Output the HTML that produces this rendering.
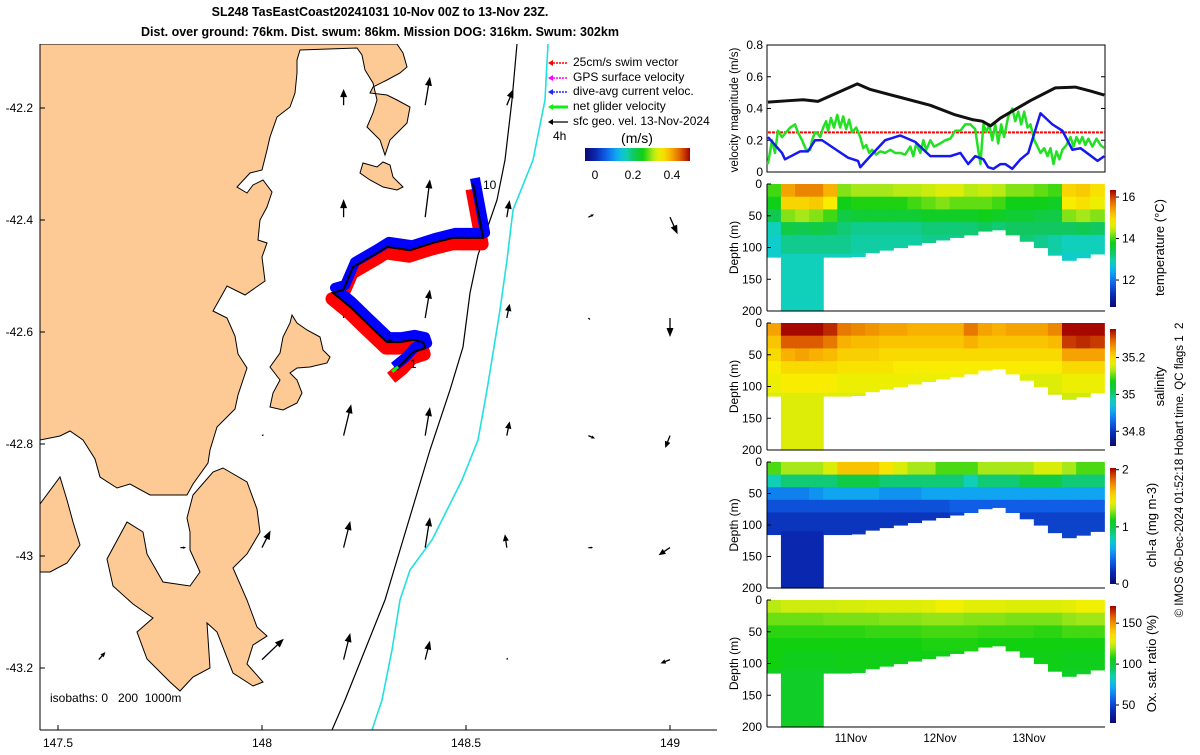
<!DOCTYPE html>
<html><head><meta charset="utf-8">
<style>
body{margin:0;background:#fff;}
svg{font-family:"Liberation Sans","DejaVu Sans",sans-serif;}
</style></head>
<body>
<svg id="chart" width="1200" height="750" viewBox="0 0 1200 750" xmlns="http://www.w3.org/2000/svg">
<rect x="0" y="0" width="1200" height="750" fill="#fff"/>
<g font-weight="bold" font-size="12.5" text-anchor="middle" fill="#000">
<text x="380" y="16">SL248 TasEastCoast20241031 10-Nov 00Z to 13-Nov 23Z.</text>
<text x="380" y="36">Dist. over ground: 76km. Dist. swum: 86km. Mission DOG: 316km. Swum: 302km</text>
</g>
<clipPath id="mapclip"><rect x="40" y="44" width="677" height="686"/></clipPath>
<g id="map">
<g clip-path="url(#mapclip)">
<g fill="#fdca96" stroke="#000" stroke-width="1">
<path d="M40,44 L397,44 L403,53 L407,67 L400,73 L387,80 L373,87 L370,93 L387,95 L397,100 L410,107 L407,123 L397,133 L390,140 L385,155 L380,140 L367,127 L373,113 L377,100 L373,83 L365,70 L362,55 L357,48 L300,50 L297,60 L297,73 L295,93 L290,107 L277,117 L270,137 L267,150 L262,170 L250,173 L237,187 L247,193 L253,185 L263,180 L272,192 L267,207 L260,220 L258,240 L267,243 L262,257 L265,281 L245,295 L227,286 L222,295 L213,311 L227,318 L235,336 L238,354 L247,368 L238,395 L235,409 L217,427 L210,450 L208,463 L193,484 L187,495 L150,495 L130,484 L117,488 L100,477 L95,459 L83,440 L70,431 L60,436 L40,440 Z"/>
<path d="M187,518 L193,495 L213,472 L223,468 L247,482 L257,509 L260,532 L247,554 L233,568 L247,600 L257,627 L267,636 L253,645 L247,664 L263,682 L253,686 L233,673 L217,632 L207,623 L210,668 L193,677 L180,691 L170,682 L147,659 L137,632 L153,618 L133,604 L113,586 L107,559 L127,522 L143,532 L147,554 L163,582 L190,586 L200,572 L190,550 L190,532 Z"/>
<path d="M40,504 L60,477 L67,500 L73,522 L80,545 L67,563 L50,572 L40,572 Z"/>
<path d="M363,163 L377,167 L383,162 L390,165 L393,177 L403,187 L397,190 L383,187 L370,180 L360,173 Z"/>
<path d="M292,315 L297,323 L307,330 L320,337 L323,350 L330,357 L327,363 L310,367 L297,368 L290,373 L297,380 L302,393 L297,403 L283,410 L270,407 L273,393 L280,380 L270,367 L280,353 L283,337 L290,323 Z"/>
</g>
<path fill="none" stroke="#000" stroke-width="1.2" d="M517,44 L512,100 L505,160 L497,200 L478,255 L470,293 L463,347 L450,390 L430,450 L415,500 L400,550 L385,600 L365,650 L345,700 L332,730"/>
<path fill="none" stroke="#22e0e0" stroke-width="1.6" d="M548,44 L545,100 L537,140 L533,160 L513,210 L507,260 L500,310 L487,390 L478,440 L462,480 L432,540 L410,570 L400,600 L392,650 L382,700 L372,730"/>
<g id="vectors"></g>
<g id="track"></g>
</g>
<text x="483" y="189" font-size="12">10</text>
<text x="386" y="341" font-size="12">1</text>
<text x="410" y="368" font-size="12">1</text>
<line x1="40" y1="44" x2="40" y2="730" stroke="#000"/>
<line x1="40" y1="730" x2="717" y2="730" stroke="#000"/>
<g id="mapticks" font-size="12"></g>
<text x="50" y="702" font-size="12" xml:space="preserve">isobaths: 0   200  1000m</text>
<g font-size="12">
<g><line x1="550" y1="63" x2="568" y2="63" stroke="#f00" stroke-width="1.5" stroke-dasharray="2,1"/><path d="M548,63 l5,-3 v6z" fill="#f00"/><text x="573" y="66">25cm/s swim vector</text></g>
<g><line x1="550" y1="78" x2="568" y2="78" stroke="#f0f" stroke-width="1.5" stroke-dasharray="2,1"/><path d="M548,78 l5,-3 v6z" fill="#f0f"/><text x="573" y="81">GPS surface velocity</text></g>
<g><line x1="550" y1="92" x2="568" y2="92" stroke="#22f" stroke-width="1.5" stroke-dasharray="2,1"/><path d="M548,92 l5,-3 v6z" fill="#22f"/><text x="573" y="95">dive-avg current veloc.</text></g>
<g><line x1="550" y1="107" x2="568" y2="107" stroke="#1e1" stroke-width="3"/><path d="M548,107 l5,-3 v6z" fill="#1e1"/><text x="573" y="110">net glider velocity</text></g>
<g><line x1="550" y1="122" x2="568" y2="122" stroke="#000" stroke-width="1.2"/><path d="M548,122 l5,-3 v6z" fill="#000"/><text x="573" y="125">sfc geo. vel. 13-Nov-2024</text></g>
<text x="553" y="140" font-size="12">4h</text>
<text x="637" y="143" font-size="14" text-anchor="middle">(m/s)</text>
<rect id="mapcbar" x="585" y="148" width="105" height="13"/>
<text x="595" y="179" font-size="12" text-anchor="middle">0</text>
<text x="633" y="179" font-size="12" text-anchor="middle">0.2</text>
<text x="672" y="179" font-size="12" text-anchor="middle">0.4</text>
</g>
</g>
<g id="right"></g>
<text transform="translate(1183,470) rotate(-90)" font-size="11.5" text-anchor="middle" xml:space="preserve">© IMOS 06-Dec-2024 01:52:18 Hobart time. QC flags 1  2</text>
</svg>
<script>
const NS='http://www.w3.org/2000/svg';
function mk(tag,attrs,parent){const e=document.createElementNS(NS,tag);for(const k in attrs)e.setAttribute(k,attrs[k]);if(parent)parent.appendChild(e);return e;}

const vecLon=[147.6,147.8,148.0,148.2,148.4,148.6,148.8,149.0];
const vecLat=[-42.195,-42.395,-42.575,-42.785,-42.985,-43.185];
const vecCol=[3,4,5, 3,4,5,6,7, 3,4,5,6,7, 2,3,4,5,6,7, 1,2,3,4,5,6,7, 0,2,3,4,5,7];
const vecRow=[0,0,0, 1,1,1,1,1, 2,2,2,2,2, 3,3,3,3,3,3, 4,4,4,4,4,4,4, 5,5,5,5,5,5];
const vecU=[0,0.05,0.07, 0,0.05,0.03,0.06,0.08, 0,0.05,0.03,0.02,0, 0.02,0.08,0.05,0.03,0.07,-0.05, 0.06,0.09,0.07,0.05,-0.02,0.05,-0.12, 0.07,0.23,0.07,0.05,0.01,-0.1];
const vecV=[0.17,0.3,0.17, 0.19,0.4,0.18,0.03,-0.18, 0.2,0.3,0.15,-0.02,-0.2, 0.01,0.33,0.3,0.15,-0.03,-0.13, 0,0.18,0.28,0.32,0.14,0,-0.08, 0.08,0.22,0.28,0.2,0.02,-0.04];
const trackLon=[148.517,148.542,148.468,148.419,148.363,148.306,148.282,148.223,148.199,148.174,148.216,148.257,148.306,148.338,148.370,148.395,148.400,148.370,148.346,148.319];
const trackLat=[-42.334,-42.432,-42.432,-42.441,-42.454,-42.448,-42.459,-42.484,-42.525,-42.530,-42.555,-42.584,-42.618,-42.618,-42.614,-42.618,-42.629,-42.636,-42.655,-42.671];
const lonTicks=[147.5,148,148.5,149];
const latTicks=[-42.2,-42.4,-42.6,-42.8,-43,-43.2];

const lonX=l=>58+(l-147.5)*408;
const latY=l=>108+(-42.2-l)*560;

const stops=[[0,'#0a0a70'],[0.1,'#0a28b0'],[0.2,'#1060e8'],[0.3,'#10a8f0'],[0.38,'#10d0c8'],[0.46,'#10c860'],[0.56,'#10d010'],[0.64,'#a8e818'],[0.72,'#f8f000'],[0.82,'#f8b000'],[0.91,'#e06000'],[1,'#a00000']];
function hx(c){return [parseInt(c.substr(1,2),16),parseInt(c.substr(3,2),16),parseInt(c.substr(5,2),16)];}
function cmap(f){f=Math.max(0,Math.min(1,f));for(let i=1;i<stops.length;i++){if(f<=stops[i][0]){const a=stops[i-1],b=stops[i];const t=(f-a[0])/(b[0]-a[0]);const ca=hx(a[1]),cb=hx(b[1]);return 'rgb('+ca.map((v,k)=>Math.round(v+(cb[k]-v)*t)).join(',')+')';}}return stops[stops.length-1][1];}

const svg=document.getElementById('chart');
const defs=mk('defs',{},svg);
function grad(id,vertical){const g=mk('linearGradient',vertical?{id:id,x1:0,y1:1,x2:0,y2:0}:{id:id,x1:0,y1:0,x2:1,y2:0},defs);for(let i=0;i<=20;i++)mk('stop',{offset:i/20,'stop-color':cmap(i/20)},g);}
grad('gh',false);grad('gv',true);
document.getElementById('mapcbar').setAttribute('fill','url(#gh)');

const vg=document.getElementById('vectors');
const K=95;
for(let i=0;i<vecCol.length;i++){
  const x0=lonX(vecLon[vecCol[i]]),y0=latY(vecLat[vecRow[i]]);
  const dx=vecU[i]*K,dy=-vecV[i]*K;const L=Math.hypot(dx,dy);
  const g=mk('g',{},vg);
  
  
  if(L<2){mk('circle',{cx:x0,cy:y0,r:1.2,fill:'#000'},g);continue;}
  const ux=dx/L,uy=dy/L;const h=Math.min(9,L*0.5),w=Math.min(3.5,L*0.22);
  const x1=x0+dx,y1=y0+dy;
  mk('line',{x1:x0,y1:y0,x2:x1-ux*h*0.6,y2:y1-uy*h*0.6,stroke:'#000','stroke-width':1.3},g);
  mk('path',{d:`M${x1},${y1} L${x1-ux*h-uy*w},${y1-uy*h+ux*w} L${x1-ux*h+uy*w},${y1-uy*h-ux*w} Z`,fill:'#000'},g);
}
const tg=document.getElementById('track');
const pts=trackLon.map((l,i)=>[lonX(l),latY(trackLat[i])]);
const ptsStr=(ox,oy)=>pts.map(p=>(p[0]+ox)+','+(p[1]+oy)).join(' ');
const red=mk('polyline',{points:ptsStr(-1,6),fill:'none',stroke:'#f00','stroke-width':13,'stroke-linejoin':'round'},tg);

const blue=mk('polyline',{points:ptsStr(2,-5),fill:'none',stroke:'#00f','stroke-width':10,'stroke-linejoin':'round'},tg);

const blk=mk('polyline',{points:ptsStr(0,0),fill:'none',stroke:'#000','stroke-width':2},tg);

const gr=mk('line',{x1:pts[pts.length-1][0],y1:pts[pts.length-1][1],x2:pts[pts.length-1][0]+6,y2:pts[pts.length-1][1]-5,stroke:'#0f0','stroke-width':3},tg);

const mt=document.getElementById('mapticks');
lonTicks.forEach(l=>{const x=lonX(l);mk('line',{x1:x,y1:730,x2:x,y2:725,stroke:'#000'},mt);const t=mk('text',{x:x,y:747,'text-anchor':'middle'},mt);t.textContent=l;});
latTicks.forEach(l=>{const y=latY(l);mk('line',{x1:40,y1:y,x2:45,y2:y,stroke:'#000'},mt);const t=mk('text',{x:33,y:y+4,'text-anchor':'end'},mt);t.textContent=l;});

const dayTicks=[24,48,72];
const dayLabels=['11Nov','12Nov','13Nov'];
const velTicks=[0,0.2,0.4,0.6,0.8];
const depthTicks=[0,50,100,150,200];
const blackT=[1.6,7.6,11.1,15.1,25.7,29.2,37.3,45.4,52.1,56.7,59.4,61.6,64.3,72.4,79.1,84.5,88.6,92.3];
const blackV=[0.44,0.45,0.455,0.445,0.555,0.52,0.47,0.42,0.36,0.33,0.32,0.29,0.34,0.45,0.53,0.535,0.51,0.485];
const blueT=[1.6,5.4,6.2,10.3,12.4,14.3,16.2,20,23.2,25.9,26.5,29.2,33.2,37.3,41.3,45.4,50.8,53.5,55.6,57.5,59.7,61,62.4,64.3,65.6,67.5,69.7,71.8,75.1,78.3,81,83.7,85.9,90.5,92.3];
const blueV=[0.22,0.12,0.08,0.13,0.13,0.2,0.2,0.14,0.09,0.07,0.03,0.1,0.2,0.23,0.19,0.1,0.1,0.12,0.05,0.1,0.08,0.03,0.02,0.05,0.05,0.02,0.08,0.12,0.37,0.3,0.26,0.14,0.15,0.07,0.1];
const greenT=[1.6,2.7,3.5,4.3,5.4,6.5,7.6,8.9,9.7,10.8,11.9,13,13.5,14.3,15.1,15.7,16.5,17.3,17.8,18.6,19.4,20.3,21.1,21.9,22.7,23.5,24.3,25.4,26.5,27.3,28.1,28.9,29.7,30.8,31.9,33.2,34.6,35.9,37.3,38.6,40,40.8,41.6,42.7,43.5,44.3,45.4,46.4,48.1,49.4,50.8,52.1,53.5,54.8,56.2,57.5,58.3,58.9,59.7,60.5,61.3,62.1,62.9,63.7,64.5,65.3,66.4,67.5,68.3,69.1,69.9,70.7,71.6,72.4,73.4,74.3,75.1,76.1,77,77.8,78.6,79.4,80.2,81,82.1,83.2,84,84.8,85.6,86.4,87.2,88,89.1,90.2,91.3,92.3];
const greenV=[0.05,0.2,0.12,0.26,0.22,0.25,0.28,0.3,0.25,0.2,0.14,0.14,0.2,0.25,0.24,0.22,0.28,0.32,0.26,0.34,0.28,0.36,0.28,0.35,0.27,0.33,0.25,0.28,0.22,0.15,0.17,0.12,0.14,0.11,0.13,0.12,0.14,0.12,0.12,0.11,0.16,0.1,0.18,0.12,0.2,0.14,0.2,0.16,0.18,0.2,0.21,0.26,0.26,0.3,0.3,0.27,0.14,0.05,0.3,0.25,0.3,0.2,0.3,0.18,0.3,0.22,0.35,0.4,0.32,0.38,0.3,0.38,0.28,0.3,0.2,0.16,0.12,0.15,0.1,0.15,0.05,0.13,0.08,0.14,0.17,0.22,0.16,0.22,0.18,0.22,0.17,0.21,0.16,0.21,0.17,0.15];
const swimT=[1.6,92.3];
const swimV=[0.25,0.25];
const profT=[3.2,7.0,10.8,14.6,18.4,22.2,25.9,29.7,33.5,37.3,41.1,44.9,48.7,52.5,56.3,60.1,63.9,67.6,71.4,75.2,79.0,82.8,86.6,90.4];
const bottomDepth=[115,200,200,200,115,115,114,108,104,100,96,92,88,84,80,74,72,80,90,100,112,120,116,110];
const depthEdges=[0,20,40,60,80,110,200];
const tempVals=[
[14.0,13.8,13.4,12.9,12.8,12.8],[15.4,15.0,14.2,13.5,13.1,12.9],[15.6,15.0,14.3,13.4,13.1,12.9],[15.6,15.1,14.2,13.5,13.1,12.9],[15.3,14.8,14.0,13.4,13.1,12.9],
[14.2,13.8,13.5,13.2,13.1,12.9],[14.3,13.9,13.6,13.1,13.0,12.9],[14.3,13.9,13.6,13.1,13.0,12.9],[14.3,13.9,13.6,13.1,13.0,12.9],[14.4,13.9,13.6,13.1,13.0,12.9],[14.4,14.0,13.6,13.1,13.0,12.9],
[14.5,14.1,13.7,13.2,13.1,12.9],[14.6,14.2,13.7,13.2,13.1,12.9],[14.6,14.1,13.7,13.2,13.1,12.9],[14.4,14.1,13.7,13.2,13.1,12.9],[14.5,14.1,13.8,13.3,13.1,12.9],[14.4,14.0,13.7,13.2,13.1,12.9],
[14.2,13.8,13.6,13.3,13.2,13.0],[14.2,13.8,13.6,13.3,13.2,13.0],[14.1,13.8,13.5,13.3,13.1,13.0],[14.0,13.7,13.5,13.3,13.0,12.9],[15.0,14.8,14.2,13.3,12.9,12.8],[15.1,14.9,14.3,13.4,12.9,12.8],[14.9,14.7,14.2,13.3,12.9,12.8]];
const salVals=[
[35.25,35.22,35.2,35.18,35.17,35.16],[35.35,35.3,35.24,35.2,35.18,35.16],[35.35,35.3,35.25,35.2,35.18,35.16],[35.35,35.3,35.24,35.2,35.18,35.16],[35.33,35.28,35.23,35.2,35.18,35.16],
[35.28,35.24,35.21,35.19,35.17,35.16],[35.27,35.23,35.21,35.19,35.17,35.16],[35.26,35.23,35.21,35.19,35.17,35.16],[35.25,35.22,35.2,35.19,35.17,35.16],[35.25,35.22,35.2,35.18,35.17,35.16],[35.24,35.22,35.2,35.18,35.17,35.16],
[35.24,35.22,35.2,35.18,35.17,35.16],[35.24,35.22,35.2,35.18,35.17,35.16],[35.24,35.22,35.2,35.18,35.17,35.16],[35.28,35.24,35.2,35.18,35.17,35.16],[35.25,35.22,35.2,35.18,35.17,35.16],[35.24,35.22,35.2,35.18,35.17,35.16],
[35.25,35.22,35.2,35.18,35.16,35.15],[35.25,35.22,35.2,35.18,35.16,35.15],[35.25,35.22,35.2,35.18,35.16,35.15],[35.27,35.23,35.2,35.18,35.16,35.15],[35.35,35.32,35.25,35.2,35.17,35.15],[35.35,35.33,35.25,35.2,35.17,35.15],[35.35,35.32,35.25,35.2,35.17,35.15]];
const chlVals=[
[1.2,0.8,0.5,0.35,0.25,0.25],[1.3,0.9,0.5,0.35,0.25,0.2],[1.3,0.9,0.5,0.35,0.25,0.2],[1.3,0.9,0.55,0.35,0.25,0.2],[1.4,0.9,0.6,0.35,0.25,0.25],
[1.6,1.0,0.6,0.35,0.25,0.25],[1.6,1.0,0.6,0.35,0.25,0.25],[1.6,1.0,0.6,0.35,0.25,0.25],[1.5,0.9,0.55,0.35,0.25,0.25],[1.4,0.9,0.55,0.35,0.25,0.25],[1.3,0.9,0.55,0.35,0.25,0.25],
[1.3,0.9,0.6,0.35,0.25,0.25],[1.2,0.9,0.6,0.35,0.25,0.25],[1.2,0.9,0.6,0.4,0.3,0.3],[1.2,0.8,0.6,0.4,0.3,0.3],[1.3,0.9,0.6,0.4,0.3,0.3],[1.3,0.9,0.6,0.4,0.3,0.3],
[1.3,0.9,0.6,0.4,0.3,0.3],[1.3,1.0,0.6,0.4,0.3,0.3],[1.4,1.0,0.6,0.4,0.3,0.3],[1.4,1.0,0.6,0.4,0.3,0.3],[1.3,0.9,0.6,0.4,0.3,0.3],[1.2,0.9,0.6,0.4,0.3,0.3],[1.2,0.9,0.6,0.4,0.3,0.3]];
const oxyVals=[
[122,115,110,108,108,105],[125,115,110,108,106,104],[125,115,110,108,106,104],[125,115,110,108,106,104],[125,116,110,108,106,104],
[126,116,110,108,107,105],[126,116,110,108,107,105],[127,116,111,108,107,105],[127,117,111,108,107,105],[127,117,111,108,107,105],[127,117,111,108,107,105],
[128,118,112,109,107,105],[130,118,112,109,107,105],[130,118,112,109,107,105],[128,117,112,109,107,105],[128,117,111,108,107,105],[128,117,111,108,107,105],
[127,116,111,108,107,105],[127,116,111,108,107,105],[127,116,110,108,107,105],[127,116,110,108,107,105],[128,118,112,108,106,104],[130,119,112,108,106,104],[130,119,112,108,106,104]];

const X0=767,X1=1105;
const tx=h=>851+(h-24)*89/24;
const R=document.getElementById('right');
function txt(p,x,y,s,attrs,name){const t=mk('text',Object.assign({x:x,y:y},attrs||{}),p);t.textContent=s;return t;}

const vp=mk('g',{},R);
const VT=45,VB=172;const vy=v=>VB-(v/0.8)*(VB-VT);
mk('rect',{x:X0,y:VT,width:X1-X0,height:VB-VT,fill:'#fff',stroke:'#000','stroke-width':1},vp);
velTicks.forEach(v=>{mk('line',{x1:X0,y1:vy(v),x2:X0+4,y2:vy(v),stroke:'#000'},vp);mk('line',{x1:X1,y1:vy(v),x2:X1-4,y2:vy(v),stroke:'#000'},vp);txt(vp,763,vy(v)+4,v,{'font-size':12,'text-anchor':'end'},'velocity-tick-label');});
txt(vp,0,0,'velocity magnitude (m/s)',{'font-size':11.5,'text-anchor':'middle',transform:`translate(738,110) rotate(-90)`},'velocity-y-axis-title');
function line(T,V,color,w,name,dash){const p=mk('polyline',{points:T.map((t,i)=>tx(t)+','+vy(V[i])).join(' '),fill:'none',stroke:color,'stroke-width':w,'stroke-linejoin':'round'},vp);if(dash)p.setAttribute('stroke-dasharray',dash);}
line(swimT,swimV,'#f00',2,'swim-speed-line','3,1');
line(greenT,greenV,'#22e022',2.5,'net-glider-speed-line');
line(blueT,blueV,'#1818f0',2.5,'dive-avg-current-line');
line(blackT,blackV,'#111',3,'surface-geo-speed-line');

const panels=[
 {name:'temperature',vals:tempVals,top:184,bot:311,cmin:10.7,cmax:16.34,ticks:[12,14,16],title:'temperature (°C)',tx:1160},
 {name:'salinity',vals:salVals,top:323,bot:450,cmin:34.72,cmax:35.355,ticks:[34.8,35,35.2],title:'salinity',tx:1160},
 {name:'chl-a',vals:chlVals,top:462,bot:588,cmin:0,cmax:2.03,ticks:[0,1,2],title:'chl-a (mg m-3)',tx:1152},
 {name:'oxygen',vals:oxyVals,top:600,bot:727,cmin:28,cmax:171,ticks:[50,100,150],title:'Ox. sat. ratio (%)',tx:1152}];
const colW=(X1-X0)/profT.length;
panels.forEach(P=>{
  const g=mk('g',{},R);
  const dy=d=>P.top+d/200*(P.bot-P.top);
  profT.forEach((t,c)=>{
    const xc=tx(t);
    for(let k=0;k<depthEdges.length-1;k++){
      const d0=depthEdges[k];let d1=Math.min(depthEdges[k+1],bottomDepth[c]);
      if(d1<=d0)continue;
      const f=(P.vals[c][k]-P.cmin)/(P.cmax-P.cmin);
      const r=mk('rect',{x:(xc-colW/2).toFixed(2),y:dy(d0).toFixed(2),width:(colW+0.6).toFixed(2),height:(dy(d1)-dy(d0)+0.6).toFixed(2),fill:cmap(f)},g);
      
      
    }
  });
  mk('line',{x1:X0,y1:P.top,x2:X0,y2:P.bot,stroke:'#000'},g);
  mk('line',{x1:X0,y1:P.bot,x2:X1,y2:P.bot,stroke:'#000'},g);
  depthTicks.forEach(d=>{mk('line',{x1:X0,y1:dy(d),x2:X0+4,y2:dy(d),stroke:'#000'},g);txt(g,762,dy(d)+4,d,{'font-size':12,'text-anchor':'end'},'depth-tick-label');});
  txt(g,0,0,'Depth (m)',{'font-size':12,'text-anchor':'middle',transform:`translate(738,${(P.top+P.bot)/2}) rotate(-90)`},'depth-axis-title');
  const cb=mk('rect',{x:1110,y:P.top+6,width:6,height:P.bot-P.top-10,fill:'url(#gv)'},g);
  
  const cy=v=>(P.top+6)+(P.bot-P.top-10)*(1-(v-P.cmin)/(P.cmax-P.cmin));
  P.ticks.forEach(v=>{mk('line',{x1:1116,y1:cy(v),x2:1119,y2:cy(v),stroke:'#000'},g);txt(g,1122,cy(v)+4,v,{'font-size':12},'colorbar-tick-label');});
  txt(g,0,0,P.title,{'font-size':13,'text-anchor':'middle',transform:`translate(${P.tx+4},${(P.top+P.bot)/2}) rotate(-90)`},P.name+'-colorbar-title');
});
dayTicks.forEach((h,i)=>{txt(R,tx(h),742,dayLabels[i],{'font-size':11.5,'text-anchor':'middle'},'time-tick-label');});
</script>
</body></html>
